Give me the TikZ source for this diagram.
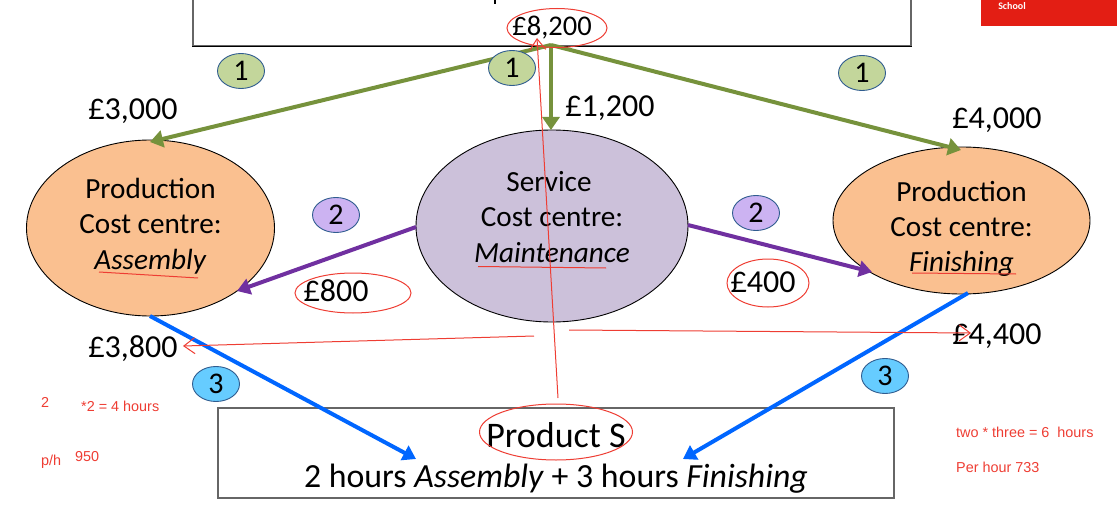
\documentclass[tikz,border=0pt]{standalone}
\usepackage{fontspec}
\setmainfont{Carlito}
\newfontfamily\redfont{Liberation Sans}
\newfontfamily\poundfont{Lato}[Scale=0.88]
\newcommand{\gbp}{{\poundfont £}}
\usetikzlibrary{shapes.geometric,arrows.meta}
\definecolor{gline}{HTML}{76923C}
\definecolor{gfill}{HTML}{C3D69B}
\definecolor{pline}{HTML}{7030A0}
\definecolor{pfill}{HTML}{CCB3F2}
\definecolor{bline}{HTML}{0066FF}
\definecolor{bfill}{HTML}{66CCFF}
\definecolor{orangefill}{HTML}{FAC090}
\definecolor{lilac}{HTML}{CCC1DA}
\definecolor{inkred}{HTML}{EE3D33}
\definecolor{logored}{HTML}{E31E14}
\definecolor{badgeedge}{HTML}{2F5C8F}
\tikzset{
  x=1pt,y=-1pt,
  money/.style={font=\fontsize{32}{38}\selectfont,inner sep=0pt},
  centre/.style={ellipse,draw=black,line width=0.9pt,inner sep=0pt},
  centretext/.style={align=center,font=\fontsize{29.2}{35.3}\selectfont,inner sep=0pt},
  badge/.style={ellipse,draw=badgeedge,line width=0.9pt,minimum width=47pt,minimum height=35pt,
    inner sep=0pt,font=\fontsize{30}{32}\selectfont},
  gbadge/.style={badge,fill=gfill},
  pbadge/.style={badge,fill=pfill},
  bbadge/.style={badge,fill=bfill},
  garrow/.style={draw=gline,line width=4pt,-{Triangle[length=13pt,width=17pt]}},
  parrow/.style={draw=pline,line width=4pt,-{Triangle[length=13pt,width=16pt]}},
  barrow/.style={draw=bline,line width=4pt,-{Triangle[length=13pt,width=16pt]}},
  inkline/.style={draw=inkred,line width=1pt},
  inkarrow/.style={inkline,-{Straight Barb[length=11pt,width=16pt]}},
  inkring/.style={ellipse,draw=inkred,line width=1pt,inner sep=0pt},
  note/.style={text=inkred,font=\redfont\fontsize{14.4}{16}\selectfont,inner sep=0pt},
  bigbox/.style={rectangle,draw=black!60,line width=1.2pt,inner sep=0pt}
}
\begin{document}
\begin{tikzpicture}
\useasboundingbox (0,0) rectangle (1117,516);
\clip (0,0) rectangle (1117,516);
% top box and logo
\node[bigbox,fill=white,minimum width=718pt,minimum height=145pt] (topbox) at (552,-27) {};
\draw[black,line width=1pt] (topbox.south west) -- (topbox.south east);
\draw[line width=2.5pt] (495,0) -- (495,4);
\node[rectangle,fill=logored,minimum width=136pt,minimum height=26pt,inner sep=0pt] (logo) at (1049,13) {};
\node[text=white,font=\bfseries\fontsize{10}{12}\selectfont,inner sep=0pt] (school) at (1012,6) {School};
% centres
\node[centre,fill=orangefill,minimum width=248pt,minimum height=176pt] (assembly) at (150.5,228) {};
\node[centre,fill=lilac,minimum width=272pt,minimum height=192pt] (service) at (552,226) {};
\node[centre,fill=orangefill,minimum width=257pt,minimum height=147pt] (finishing) at (961.5,220.5) {};
\node[centretext] (assemblytext) at (150.5,226) {Production\\Cost centre:\\\textit{Assembly}};
\node[centretext] (servicetext) at (552,217) {Service\hspace*{6pt}\\Cost centre:\\\textit{Maintenance}};
\node[centretext] (finishingtext) at (961.5,229) {Production\\Cost centre:\\\textit{Finishing}};
% product box
\node[bigbox,fill=white,minimum width=676pt,minimum height=90pt] (product) at (556,453) {};
\node[font=\fontsize{36}{40}\selectfont,inner sep=0pt] (productS) at (556,435) {Product S};
\node[font=\fontsize{33.8}{38}\selectfont,inner sep=0pt] (hours) at (556,478.5) {2 hours \textit{Assembly} + 3 hours \textit{Finishing}};
% anchors for connectors
\coordinate (src) at (551,45);
\coordinate (asmTop) at (150,142);
\coordinate (svcTop) at (551,130);
\coordinate (finTop) at (961,150);
\coordinate (svcL) at (416,227);
\coordinate (svcR) at (688,225);
\coordinate (asmR) at (237,291);
\coordinate (finL) at (872,272);
\coordinate (asmB) at (150,316);
\coordinate (finB) at (968,293);
\coordinate (prodL) at (416,459);
\coordinate (prodR) at (683,459);
% arrows
\draw[garrow] (src) -- (asmTop);
\draw[garrow] (src) -- (svcTop);
\draw[garrow] (src) -- (finTop);
\draw[parrow] (svcL) -- (asmR);
\draw[parrow] (svcR) -- (finL);
\draw[barrow] (asmB) -- (prodL);
\draw[barrow] (finB) -- (prodR);
% badges
\node[gbadge] (b1a) at (241,71) {1};
\node[gbadge] (b1b) at (512,68) {1};
\node[gbadge] (b1c) at (862,73) {1};
\node[pbadge] (b2a) at (336,215) {2};
\node[pbadge] (b2b) at (756,213) {2};
\node[bbadge] (b3a) at (216,384) {3};
\node[bbadge] (b3b) at (885,376) {3};
% money labels
\node[font=\fontsize{28.5}{30}\selectfont,inner sep=0pt] (total) at (552,28) {\gbp 8,200};
\node[money] (m3000) at (133,111) {\gbp 3,000};
\node[money] (m1200) at (610,108) {\gbp 1,200};
\node[money] (m4000) at (997,120) {\gbp 4,000};
\node[money] (m800) at (336,291) {\gbp 800};
\node[money] (m400) at (763,282) {\gbp 400};
\node[money] (m3800) at (133,349) {\gbp 3,800};
\node[money] (m4400) at (997,336) {\gbp 4,400};
% red annotations
\node[inkring,minimum width=100pt,minimum height=39pt] (r8200) at (557,28) {};
\node[inkring,minimum width=116pt,minimum height=40pt] (r800) at (353,293) {};
\node[inkring,minimum width=82pt,minimum height=48pt] (r400) at (768,283) {};
\node[inkring,minimum width=153pt,minimum height=56pt] (rS) at (556,432) {};
\coordinate (upS) at (558,398);
\coordinate (upT) at (537,38);
\coordinate (lS) at (534,336);
\coordinate (lT) at (183,346);
\coordinate (rSt) at (569,330);
\coordinate (rT) at (971,333);
\draw[inkarrow] (upS) -- (upT);
\draw[inkarrow] (lS) -- (lT);
\draw[inkarrow] (rSt) -- (rT);
\coordinate (u1) at (99,272); \coordinate (u2) at (198,278);
\coordinate (u3) at (478,266.5); \coordinate (u4) at (606,268);
\coordinate (u5) at (912,273); \coordinate (u6) at (1016,274);
\draw[inkline] (u1) -- (u2);
\draw[inkline] (u3) -- (u4);
\draw[inkline] (u5) -- (u6);
\node[note,anchor=west] (n1) at (41,402) {2};
\node[note,anchor=west] (n2) at (81,406) {*2 = 4 hours};
\node[note,anchor=west] (n3) at (41,462) {p/h};
\node[note,anchor=west] (n4) at (75,457) {950};
\node[note,anchor=west] (n5) at (956,432) {two * three = 6\ \ hours};
\node[note,anchor=west] (n6) at (956,467) {Per hour 733};
\end{tikzpicture}
\end{document}
